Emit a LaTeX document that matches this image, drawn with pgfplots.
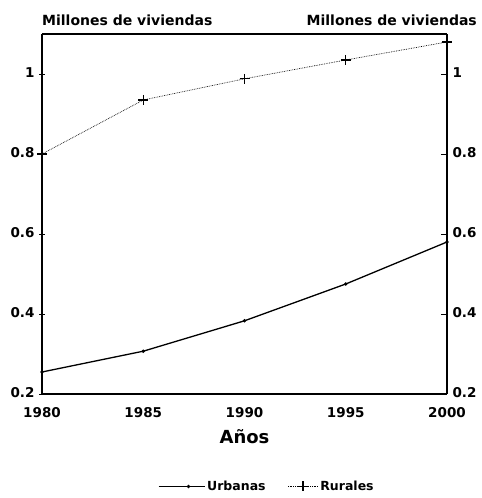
\documentclass[border=0pt]{standalone}
\usepackage{fontspec}
\setmainfont{DejaVu Sans}
\usepackage{pgfplots}
\pgfplotsset{compat=1.18}
\pgfplotsset{
  urbleg/.style={legend image code/.code={\draw[##1] (-26pt,0pt) -- (20pt,0pt); \draw[##1] plot coordinates {(4pt,0pt)};}},
  rurleg/.style={legend image code/.code={\draw[##1] (0pt,0pt) -- (30pt,0pt); \draw[##1] plot coordinates {(15pt,0pt)};}},
}
\begin{document}
\begin{tikzpicture}[font=\bfseries]
\pgfplotsset{
  common/.style={
    width=405pt, height=360pt, scale only axis,
    xmin=1980, xmax=2000, ymin=0.2, ymax=1.1,
    ytick={0.2,0.4,0.6,0.8,1},
    yticklabels={0.2,0.4,0.6,0.8,1},
    xtick={1980,1985,1990,1995,2000},
    xticklabels={1980,1985,1990,1995,2000},
    ticklabel style={font=\bfseries\fontsize{13.5}{15}\selectfont},
    /pgf/number format/assume math mode=true,
    major tick length=6pt,
    tick style={black, line width=0.9pt},
    axis line style={line width=1.8pt},
  }
}
\begin{axis}[common,
  axis y line*=left, axis x line*=bottom,
  tick align=center,
  xtick style={draw=none},
  yticklabel style={xshift=-1pt, yshift=1pt},
  xticklabel style={yshift=-7pt},
  xlabel={Años}, xlabel style={font=\fontsize{18}{20}\selectfont\bfseries, yshift=-5pt},
  legend style={at={(0.555,-0.23)}, anchor=north, draw=none, legend columns=2,
    font=\bfseries\fontsize{12.5}{14}\selectfont,
    /tikz/every even column/.append style={column sep=20pt}},
  legend cell align=left,
  clip=false,
]
\coordinate (SW) at (rel axis cs:0,0);
\coordinate (NE) at (rel axis cs:1,1);
\addplot[black, line width=1.3pt, mark=*, mark size=1pt, urbleg] coordinates {
(1980,0.255) (1985,0.307) (1990,0.383) (1995,0.475) (2000,0.580)};
\addlegendentry{Urbanas}
\addplot[black, line width=0.7pt, densely dotted, mark=+, mark size=5pt, mark options={solid, line width=1.1pt}, rurleg] coordinates {
(1980,0.800) (1985,0.935) (1990,0.988) (1995,1.035) (2000,1.080)};
\addlegendentry{Rurales}
\node[anchor=south west, inner sep=0pt, font=\bfseries\fontsize{14}{16}\selectfont] at ([yshift=8pt]rel axis cs:0,1) {Millones de viviendas};
\node[anchor=south east, inner sep=0pt, font=\bfseries\fontsize{14}{16}\selectfont] at ([xshift=30pt,yshift=8pt]rel axis cs:1,1) {Millones de viviendas};
\end{axis}
\begin{axis}[common,
  axis y line*=right, axis x line*=top,
  xticklabels={}, xtick=\empty,
  tick align=inside,
  yticklabel style={xshift=2pt, yshift=1pt},
]
\end{axis}
\pgfresetboundingbox
\path ([xshift=-42pt,yshift=-104pt]SW) rectangle ([xshift=34pt,yshift=34pt]NE);
\end{tikzpicture}
\end{document}
